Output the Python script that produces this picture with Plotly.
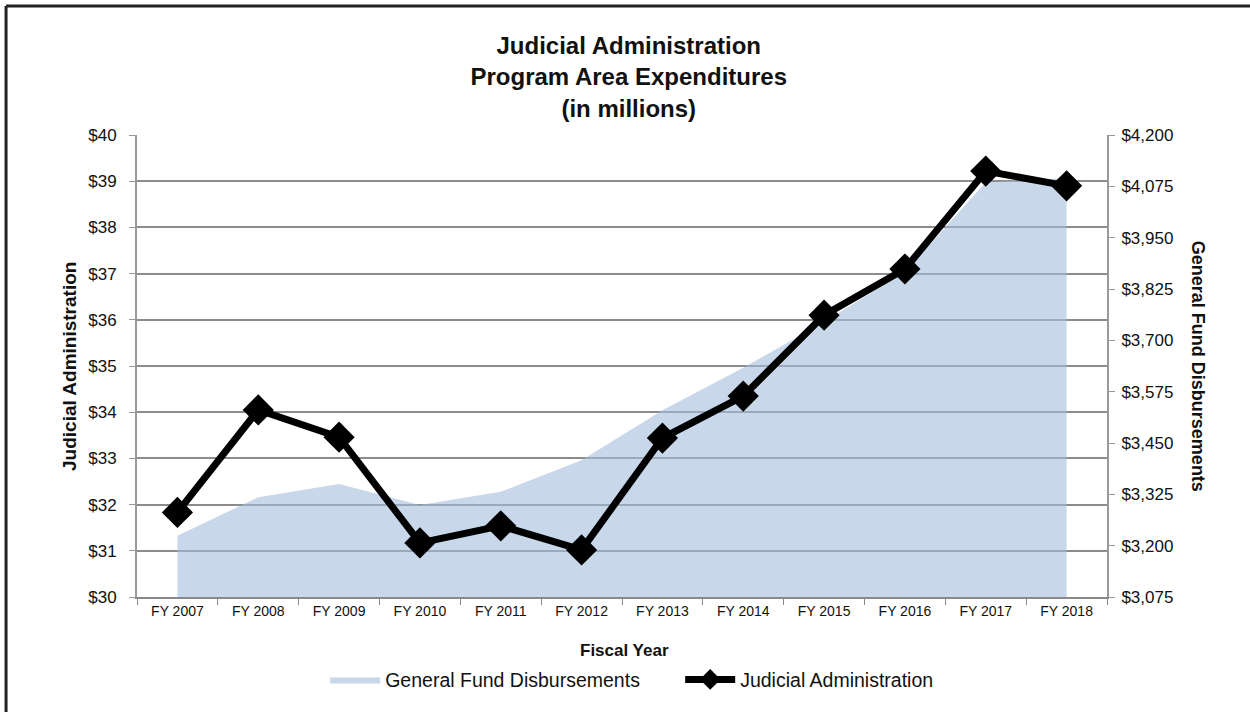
import plotly.graph_objects as go

years = ["FY 2007", "FY 2008", "FY 2009", "FY 2010", "FY 2011", "FY 2012",
         "FY 2013", "FY 2014", "FY 2015", "FY 2016", "FY 2017", "FY 2018"]
judicial = [31.83, 34.05, 33.46, 31.17, 31.54, 31.02, 33.44, 34.35, 36.10, 37.10, 39.22, 38.90]
general_fund = [3224, 3318, 3350, 3299, 3331, 3408, 3530, 3633, 3745, 3866, 4085, 4095]

left_ticks = [30, 31, 32, 33, 34, 35, 36, 37, 38, 39, 40]
right_ticks = [3075, 3200, 3325, 3450, 3575, 3700, 3825, 3950, 4075, 4200]

FONT = "Liberation Sans, Arial, sans-serif"

fig = go.Figure()
fig.add_trace(go.Scatter(
    x=years, y=general_fund, name="General Fund Disbursements",
    mode="lines", line=dict(width=0, color="rgba(163,188,220,0.6)"),
    fill="tozeroy", fillcolor="rgba(163,188,220,0.6)", yaxis="y"))
fig.add_trace(go.Scatter(
    x=years, y=judicial, name="Judicial Administration",
    mode="lines+markers", line=dict(width=7, color="black"),
    marker=dict(symbol="diamond", size=24, color="black"), yaxis="y2"))

fig.update_layout(
    width=1250, height=712,
    paper_bgcolor="white", plot_bgcolor="white",
    margin=dict(l=137, r=143, t=135, b=115, autoexpand=False),
    title=dict(text="<b>Judicial Administration<br>Program Area Expenditures<br>(in millions)</b>",
               x=0.503, xanchor="center", y=0.924, yanchor="top",
               font=dict(family=FONT, size=24, color="#111")),
    xaxis=dict(type="category", range=[-0.5, 11.5], showgrid=False, automargin=False,
               showline=True, linecolor="#888", linewidth=2,
               ticks="outside", tickson="boundaries", ticklen=6, tickcolor="#888",
               tickfont=dict(family=FONT, size=14, color="#111")),
    yaxis=dict(range=[3075, 4200], side="right", automargin=False,
               tickvals=right_ticks, ticktext=["${:,}".format(v) for v in right_ticks],
               showgrid=False, showline=True, linecolor="#999", linewidth=2,
               ticks="outside", ticklen=6, tickcolor="#999", ticklabelstandoff=3,
               tickfont=dict(family=FONT, size=17, color="#111"), zeroline=False),
    yaxis2=dict(range=[30, 40], overlaying="y", side="left", automargin=False,
                tickvals=left_ticks, ticktext=["$%d" % v for v in left_ticks],
                showgrid=True, gridcolor="#8c8c8c", gridwidth=2,
                showline=True, linecolor="#999", linewidth=2,
                ticks="outside", ticklen=6, tickcolor="#999", ticklabelstandoff=9,
                tickfont=dict(family=FONT, size=17, color="#111"),
                zeroline=False),
    legend=dict(orientation="h", x=0.194, xanchor="left", y=-0.137, yanchor="top",
                font=dict(family=FONT, size=19.5, color="#111"), itemwidth=50,
                entrywidth=290, traceorder="normal"),
    showlegend=True,
)

fig.add_annotation(text="<b>Judicial Administration</b>", textangle=-90,
                   xref="paper", yref="paper", x=-0.069, y=0.498, showarrow=False,
                   xanchor="center", yanchor="middle",
                   font=dict(family=FONT, size=19, color="#111"))
fig.add_annotation(text="<b>General Fund Disbursements</b>", textangle=90,
                   xref="paper", yref="paper", x=1.094, y=0.5, showarrow=False,
                   xanchor="center", yanchor="middle",
                   font=dict(family=FONT, size=18, color="#111"))
fig.add_annotation(text="<b>Fiscal Year</b>",
                   xref="paper", yref="paper", x=0.503, y=-0.115, showarrow=False,
                   xanchor="center", yanchor="middle",
                   font=dict(family=FONT, size=17, color="#111"))

# outer frame (top and left edges)
fig.add_shape(type="line", xref="paper", yref="paper", x0=-0.135, x1=1.2, y0=1.279, y1=1.279,
              line=dict(color="#222", width=3))
fig.add_shape(type="line", xref="paper", yref="paper", x0=-0.135, x1=-0.135, y0=-0.3, y1=1.279,
              line=dict(color="#222", width=3))

fig.write_html("out.html", config={"displayModeBar": False},
               post_script="document.body.style.margin='0px';")
